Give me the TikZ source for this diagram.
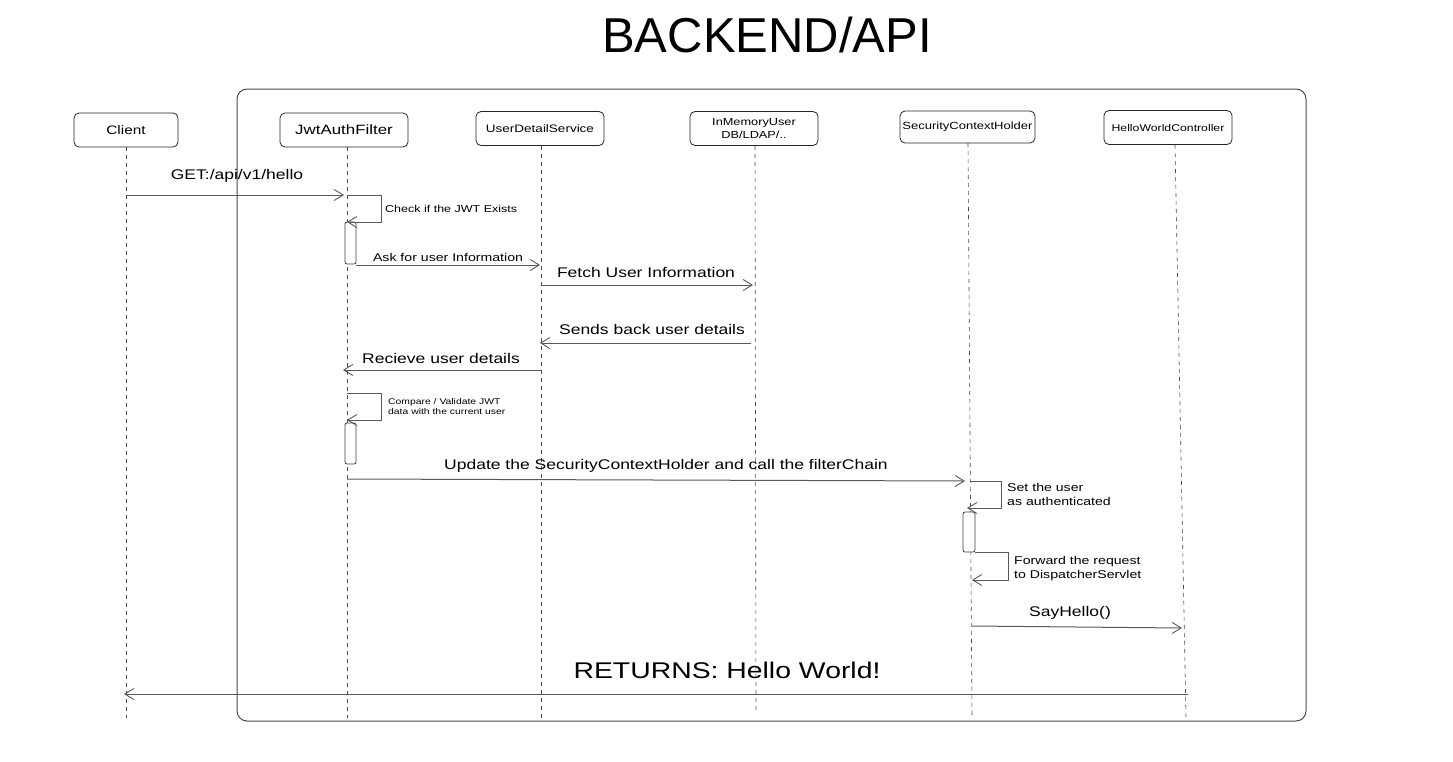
\documentclass[tikz,border=0pt]{standalone}
\usepackage{fontspec}
\setmainfont[FakeStretch=1.25]{Liberation Sans}
\newfontfamily\plainfont{Liberation Sans}
\usetikzlibrary{arrows.meta}
\begin{document}
\begin{tikzpicture}[x=1pt,y=-1pt,
  party/.style={draw=black!85,line width=0.8pt,rounded corners=5pt,minimum height=34pt,inner sep=2pt,font=\fontsize{12.3}{13}\selectfont,align=center},
  life/.style={draw=black!70,line width=0.6pt,dash pattern=on 4pt off 4pt},
  msg/.style={draw=black!65,line width=1pt,-{Straight Barb[length=9pt,width=11pt,line width=0.9pt]}},
  act/.style={draw=black!75,line width=0.8pt,rounded corners=2pt,fill=white},
  lbl/.style={inner sep=1pt,text=black},
  small/.style={lbl,font=\fontsize{10}{11}\selectfont,align=left,anchor=west},
  tiny/.style={lbl,font=\fontsize{8.3}{10}\selectfont,align=left,anchor=west},
  mid/.style={lbl,font=\fontsize{11.3}{14}\selectfont,align=left,anchor=west},
  big/.style={lbl,font=\fontsize{14}{16}\selectfont}]
\useasboundingbox (0,0) rectangle (1453,761);
\fill[white] (0,0) rectangle (1453,761);

% title
\node[lbl,font=\plainfont\fontsize{49}{52}\selectfont] (title) at (767,35) {BACKEND/API};

% frame
\draw[black!70,line width=1pt,rounded corners=10pt] (237,89) rectangle (1306,721);

% participants
\node[party,minimum width=104pt] (client) at (126,130) {Client};
\node[party,minimum width=128pt,font=\fontsize{13.5}{14}\selectfont] (jwt) at (344,130) {JwtAuthFilter};
\node[party,minimum width=128pt,font=\fontsize{10.8}{12}\selectfont] (uds) at (540,128.5) {UserDetailService};
\node[party,minimum width=128pt,font=\fontsize{10.2}{12.5}\selectfont] (mem) at (754,128.5) {InMemoryUser\\DB/LDAP/..};
\node[party,minimum width=135pt,minimum height=32pt,font=\fontsize{10.4}{12}\selectfont] (sch) at (967.5,127) {SecurityContextHolder};
\node[party,minimum width=128pt,font=\fontsize{9.8}{11}\selectfont] (hwc) at (1168,127.5) {HelloWorldController};

% lifeline ends
\coordinate (clientE) at (126,718);
\coordinate (jwtE) at (347,718);
\coordinate (udsE) at (541,718);
\coordinate (memE) at (756,714);
\coordinate (schE) at (972,718);
\coordinate (hwcE) at (1186,718);
\draw[life] (126,147) -- (clientE);
\draw[life] (347,147) -- (jwtE);
\draw[life] (541,146) -- (udsE);
\draw[life] (755,146) -- (memE);
\draw[life] (968,143) -- (schE);
\draw[life] (1175,145) -- (hwcE);

% message points
\coordinate (m1a) at (126,195); \coordinate (m1b) at (344,195);
\coordinate (l1a) at (347,195); \coordinate (l1b) at (381,222); \coordinate (l1c) at (347,222);
\coordinate (m2a) at (356,265); \coordinate (m2b) at (540,265);
\coordinate (m3a) at (541,285); \coordinate (m3b) at (753,285);
\coordinate (m4a) at (751,343); \coordinate (m4b) at (540,343);
\coordinate (m5a) at (541,370); \coordinate (m5b) at (343,370);
\coordinate (l2a) at (347,393); \coordinate (l2b) at (381,420); \coordinate (l2c) at (347,420);
\coordinate (m6a) at (347,479); \coordinate (m6b) at (965,481);
\coordinate (l3a) at (970,481); \coordinate (l3b) at (1001,508); \coordinate (l3c) at (967,508);
\coordinate (l4a) at (975,552); \coordinate (l4b) at (1008,580); \coordinate (l4c) at (972,580);
\coordinate (m7a) at (972,626); \coordinate (m7b) at (1182,628);
\coordinate (m8a) at (1188,694); \coordinate (m8b) at (124,694);

% activations
\draw[act] (345,222) rectangle (356,264);
\draw[act] (345,423) rectangle (356,464);
\draw[act] (963,512) rectangle (975,552);

% messages
\draw[msg] (m1a) -- (m1b);
\node[big] (t1) at (237,176) {GET:/api/v1/hello};
\draw[msg] (l1a) -| (l1b) -- (l1c);
\node[small] (t2) at (384,209) {Check if the JWT Exists};
\draw[msg] (m2a) -- (m2b);
\node[lbl,font=\fontsize{11.3}{13}\selectfont] (t3) at (448,257) {Ask for user Information};
\draw[msg] (m3a) -- (m3b);
\node[big] (t4) at (646,272) {Fetch User Information};
\draw[msg] (m4a) -- (m4b);
\node[big] (t5) at (652,329) {Sends back user details};
\draw[msg] (m5a) -- (m5b);
\node[big] (t6) at (441,358) {Recieve user details};
\draw[msg] (l2a) -| (l2b) -- (l2c);
\node[tiny] (t7) at (387,407) {Compare / Validate JWT\\data with the current user};
\draw[msg] (m6a) -- (m6b);
\node[big] (t8) at (666,466) {Update the SecurityContextHolder and call the filterChain};
\draw[msg] (l3a) -| (l3b) -- (l3c);
\node[mid] (t9) at (1006,494) {Set the user\\as authenticated};
\draw[msg] (l4a) -| (l4b) -- (l4c);
\node[mid] (t10) at (1013,569) {Forward the request\\to DispatcherServlet};
\draw[msg] (m7a) -- (m7b);
\node[big] (t11) at (1070,613) {SayHello()};
\draw[msg] (m8a) -- (m8b);
\node[lbl,font=\fontsize{22.7}{26}\selectfont] (t12) at (727,670) {RETURNS: Hello World!};
\end{tikzpicture}
\end{document}
